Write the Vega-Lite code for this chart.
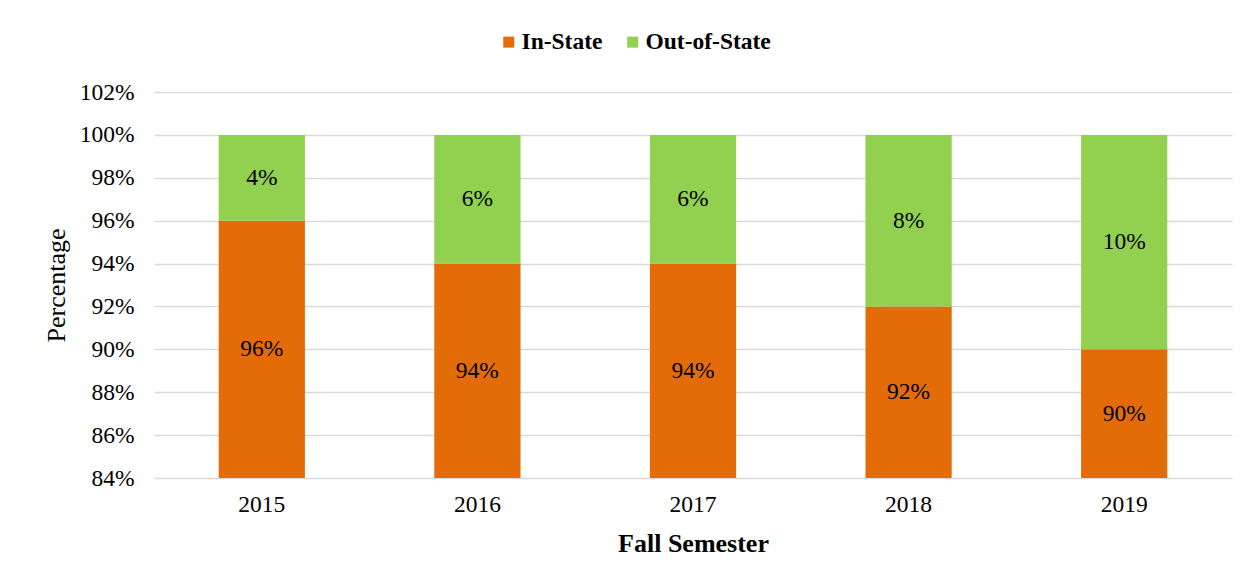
{
  "$schema": "https://vega.github.io/schema/vega-lite/v6.json",
  "autosize": "none",
  "width": 1078,
  "height": 386,
  "padding": {"left": 154, "top": 92, "right": 22, "bottom": 108},
  "background": "white",
  "config": {
    "font": "Liberation Serif",
    "view": {"stroke": null},
    "axis": {"labelFont": "Liberation Serif", "titleFont": "Liberation Serif", "labelColor": "#000", "titleColor": "#000"}
  },
  "data": {
    "values": [
      {"year": "2015", "category": "In-State", "order": 1, "value": 96},
      {"year": "2015", "category": "Out-of-State", "order": 2, "value": 4},
      {"year": "2016", "category": "In-State", "order": 1, "value": 94},
      {"year": "2016", "category": "Out-of-State", "order": 2, "value": 6},
      {"year": "2017", "category": "In-State", "order": 1, "value": 94},
      {"year": "2017", "category": "Out-of-State", "order": 2, "value": 6},
      {"year": "2018", "category": "In-State", "order": 1, "value": 92},
      {"year": "2018", "category": "Out-of-State", "order": 2, "value": 8},
      {"year": "2019", "category": "In-State", "order": 1, "value": 90},
      {"year": "2019", "category": "Out-of-State", "order": 2, "value": 10}
    ]
  },
  "transform": [
    {"stack": "value", "groupby": ["year"], "sort": [{"field": "order", "order": "ascending"}], "as": ["y0", "y1"]},
    {"calculate": "(max(datum.y0, 84) + datum.y1) / 2", "as": "mid"},
    {"calculate": "datum.value + '%'", "as": "label"}
  ],
  "encoding": {
    "x": {
      "field": "year", "type": "nominal",
      "scale": {"paddingInner": 0.6, "paddingOuter": 0.3},
      "axis": {"title": "Fall Semester", "titleFontSize": 26, "titleFontWeight": "bold", "titlePadding": 15, "labelFontSize": 23.5, "labelAngle": 0, "labelPadding": 14, "ticks": false, "domain": false}
    }
  },
  "layer": [
    {
      "mark": {"type": "bar", "clip": true},
      "encoding": {
        "y": {
          "field": "y0", "type": "quantitative",
          "scale": {"domain": [84, 102], "nice": false, "zero": false},
          "axis": {"title": "Percentage", "titleFontSize": 26, "titleFontWeight": "normal", "titlePadding": 10, "labelFontSize": 23.5, "labelPadding": 20, "values": [84, 86, 88, 90, 92, 94, 96, 98, 100, 102], "labelExpr": "datum.value + '%'", "ticks": false, "domain": false, "gridColor": "#d9d9d9", "gridWidth": 1.5}
        },
        "y2": {"field": "y1"},
        "color": {
          "field": "category", "type": "nominal",
          "scale": {"domain": ["In-State", "Out-of-State"], "range": ["#e36c09", "#92d050"]},
          "legend": {"title": null, "orient": "none", "direction": "horizontal", "legendX": 343, "legendY": -62, "symbolType": "square", "symbolSize": 121, "symbolOpacity": 1, "symbolStrokeWidth": 0, "labelFontSize": 23.5, "labelFontWeight": "bold", "labelFont": "Liberation Serif", "labelColor": "#000", "columnPadding": 18, "labelOffset": 1}
        }
      }
    },
    {
      "mark": {"type": "text", "fontSize": 23.5, "color": "#000", "font": "Liberation Serif", "baseline": "middle"},
      "encoding": {
        "y": {"field": "mid", "type": "quantitative"},
        "text": {"field": "label"}
      }
    }
  ]
}
